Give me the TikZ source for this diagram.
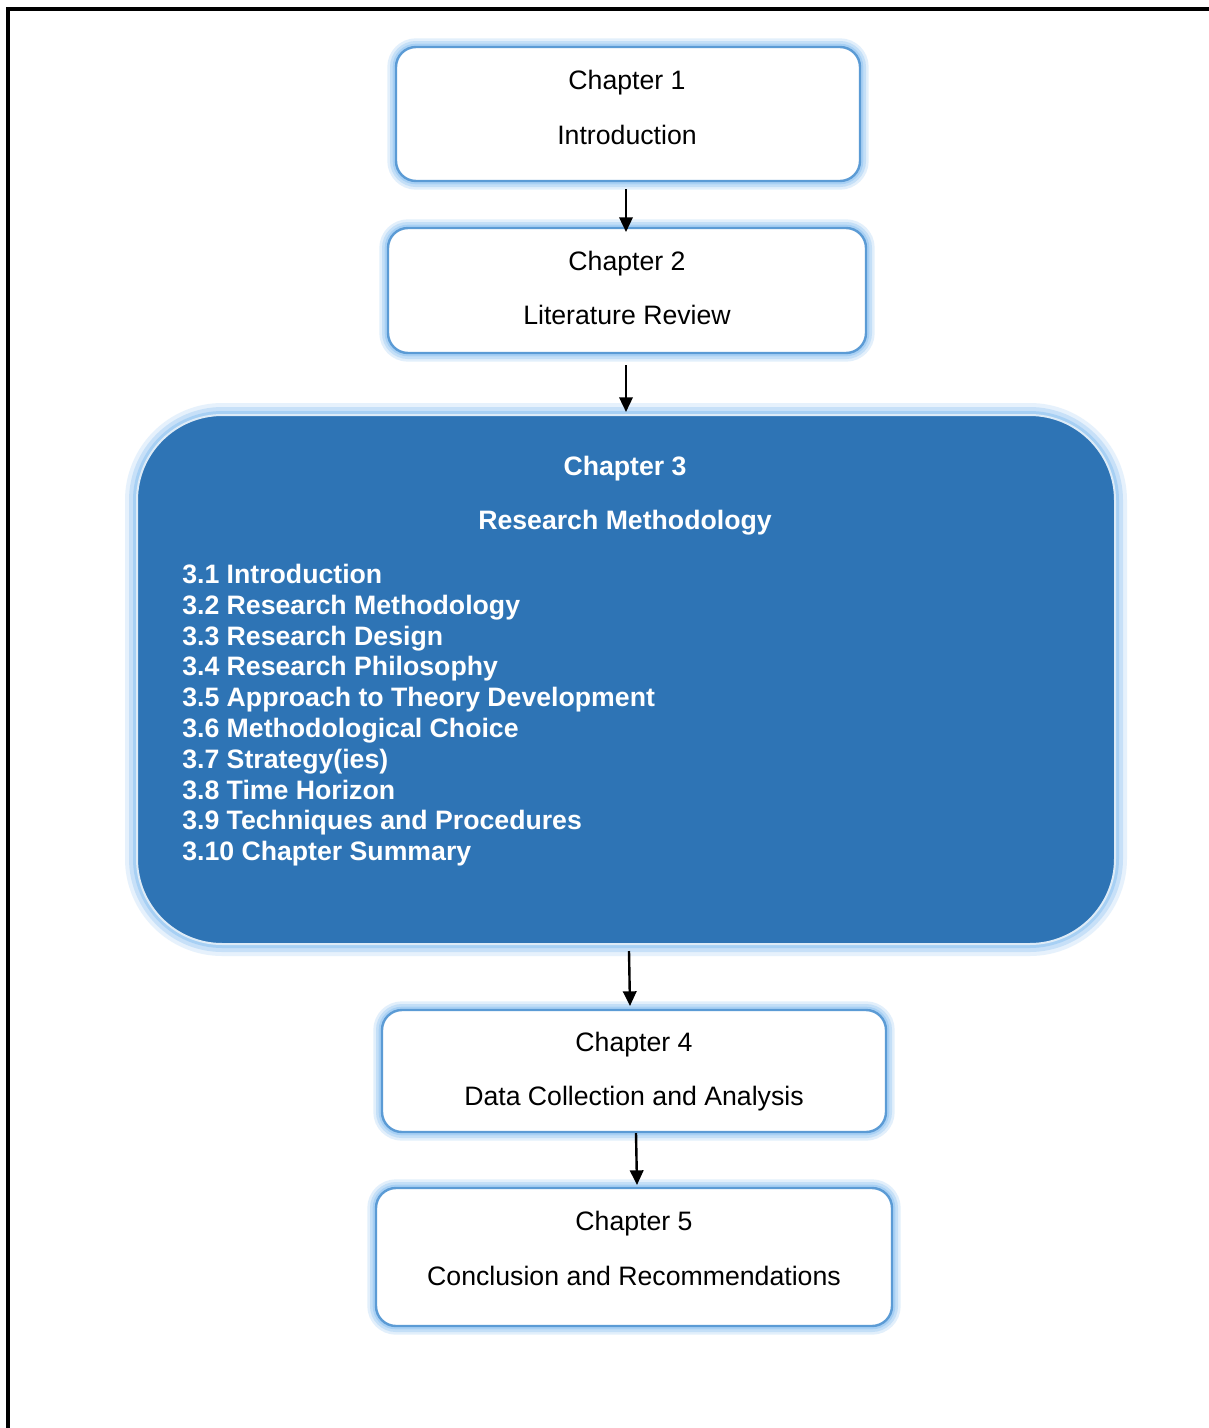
\documentclass[tikz,border=0pt]{standalone}
\usepackage{fontspec}
\setmainfont{Liberation Sans}
\usetikzlibrary{arrows.meta,calc}
\definecolor{boxline}{HTML}{5B9BD5}
\definecolor{glow}{HTML}{8EC3F2}
\definecolor{chblue}{HTML}{2E74B5}
\definecolor{rimline}{HTML}{DDEBF7}
\def\pxu{0.75pt}
\begin{document}
\begin{tikzpicture}[x=0.75pt,y=-0.75pt,
  chbox/.style={rectangle, rounded corners=15pt, draw=boxline, line width=1.8pt,
    fill=white, inner sep=0pt, outer sep=0pt,
    preaction={draw=glow, line width=13pt, opacity=0.25},
    preaction={draw=glow, line width=9pt, opacity=0.35},
    preaction={draw=glow, line width=5pt, opacity=0.5}},
  bigbox/.style={rectangle, rounded corners=64pt, draw=rimline, line width=1.5pt,
    fill=chblue, inner sep=0pt, outer sep=0pt,
    preaction={draw=glow, line width=18pt, opacity=0.22},
    preaction={draw=glow, line width=12pt, opacity=0.35},
    preaction={draw=glow, line width=6pt, opacity=0.55}},
  chtext/.style={anchor=base, inner sep=0pt, font=\fontsize{20pt}{23pt}\selectfont},
  wtext/.style={chtext, text=white, font=\fontsize{20pt}{23pt}\selectfont\bfseries},
  arr/.style={line width=1.8pt, -{Triangle[length=11pt,width=10pt]}}
]
\useasboundingbox (0,0) rectangle (1209,1428);
\fill[white] (0,0) rectangle (1209,1428);

% outer frame (top and left edges)
\draw[line width=2.3pt] (8,1440) -- (8,9) -- (1230,9);

% chapter boxes
\node[chbox, minimum width=464*\pxu, minimum height=134*\pxu] (c1) at (628,114) {};
\node[chbox, minimum width=478*\pxu, minimum height=125*\pxu] (c2) at (627,290.5) {};
\node[bigbox, minimum width=978*\pxu, minimum height=529*\pxu] (c3) at (626,679.5) {};
\node[chbox, minimum width=504*\pxu, minimum height=122*\pxu] (c4) at (634,1071) {};
\node[chbox, minimum width=516*\pxu, minimum height=138*\pxu] (c5) at (634,1257) {};

% box texts
\node[chtext] (c1a) at (627,89.5) {Chapter 1};
\node[chtext] (c1b) at (627,144.5) {Introduction};
\node[chtext] (c2a) at (627,270.5) {Chapter 2};
\node[chtext] (c2b) at (627,324.5) {Literature Review};
\node[wtext] (c3a) at (625,475.5) {Chapter 3};
\node[wtext] (c3b) at (625,529.5) {Research Methodology};
\foreach \t [count=\i] in {3.1 Introduction, 3.2 Research Methodology,
    3.3 Research Design, 3.4 Research Philosophy,
    3.5 Approach to Theory Development, 3.6 Methodological Choice,
    3.7 Strategy(ies), 3.8 Time Horizon,
    3.9 Techniques and Procedures, 3.10 Chapter Summary}
  \node[wtext, anchor=base west] (s\i) at (182,{583.5+30.8*(\i-1)}) {\t};
\node[chtext] (c4a) at (634,1051.5) {Chapter 4};
\node[chtext] (c4b) at (634,1105.5) {Data Collection and Analysis};
\node[chtext] (c5a) at (634,1230.5) {Chapter 5};
\node[chtext] (c5b) at (634,1285.5) {Conclusion and Recommendations};

% connectors
\draw[arr] ($(c1.south)+(-2,8)$) -- ($(c2.north)+(-1,4)$);
\draw[arr] ($(c2.south)+(-1,12)$) -- ($(c3.north)+(0,-3)$);
\draw[arr] ($(c3.south)+(3,7)$) -- ($(c4.north)+(-4,-4)$);
\draw[arr] ($(c4.south)+(2,1)$) -- ($(c5.north)+(3,-3)$);
\end{tikzpicture}
\end{document}
